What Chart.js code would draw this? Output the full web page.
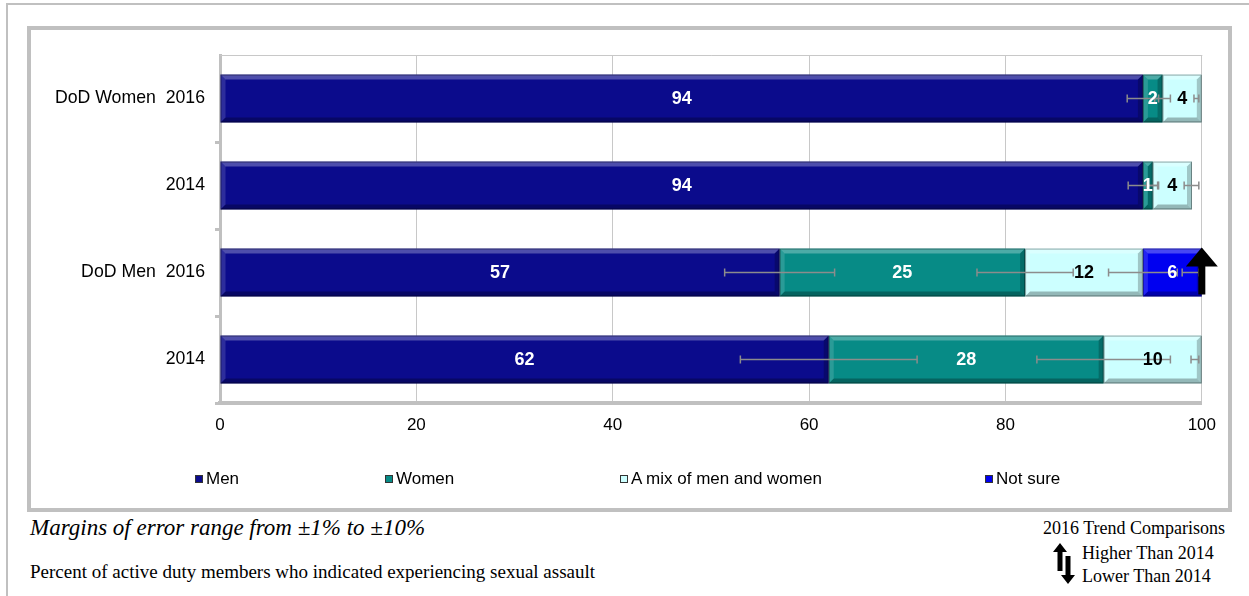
<!DOCTYPE html>
<html lang="en">
<head>
    <meta charset="UTF-8">
    <title>Perpetrator gender</title>
    <script src="https://cdn.jsdelivr.net/npm/chart.js"></script>
    <style>
        * {
            margin: 0;
            padding: 0;
            box-sizing: border-box;
        }

        body {
            width: 1249px;
            height: 596px;
            background: #fff;
            position: relative;
            overflow: hidden;
            font-family: "Liberation Sans", Arial, sans-serif;
        }

        /* thin page frame (top + left only) */
        .page-frame {
            position: absolute;
            left: 6px;
            top: 3px;
            width: 1243px;
            height: 593px;
            border-top: 2px solid #c0c0c0;
            border-left: 2px solid #c0c0c0;
        }

        /* chart box with the thick grey border */
        .chart-box {
            position: absolute;
            left: 27px;
            top: 26px;
            width: 1205px;
            height: 486px;
            border: 4px solid #c0c0c0;
        }

        .legend {
            position: absolute;
            left: 0;
            top: 469px;
            width: 1249px;
            height: 20px;
        }

        .legend-item {
            position: absolute;
            top: 0;
            display: flex;
            align-items: center;
            font-size: 17px;
            color: #000;
            white-space: nowrap;
        }

        .legend-item span.box {
            display: inline-block;
            width: 8px;
            height: 8px;
            margin-right: 3px;
            border: 1px solid #333;
        }

        .note {
            position: absolute;
            font-family: "Liberation Serif", "Times New Roman", serif;
            color: #000;
            white-space: nowrap;
        }

        .margins {
            left: 30px;
            top: 515px;
            font-size: 23px;
            font-style: italic;
        }

        .percent {
            left: 30px;
            top: 561px;
            font-size: 19px;
        }

        .trend-title {
            left: 1043px;
            top: 518px;
            font-size: 18px;
        }

        .trend-up {
            left: 1082px;
            top: 543px;
            font-size: 18px;
        }

        .trend-down {
            left: 1082px;
            top: 566px;
            font-size: 18px;
        }

        .trend-icon {
            position: absolute;
            left: 1052px;
            top: 542px;
        }
    </style>
</head>
<body>
    <div class="page-frame"></div>
    <div class="chart-box">
        <canvas id="perpChart"></canvas>
    </div>
    <div class="legend" id="legend"></div>

    <div class="note margins">Margins of error range from ±1% to ±10%</div>
    <div class="note percent">Percent of active duty members who indicated experiencing sexual assault</div>
    <div class="note trend-title">2016 Trend Comparisons</div>
    <svg class="trend-icon" width="26" height="44" viewBox="0 0 26 44">
        <polygon points="8,1 1,10 5.5,10 5.5,29 10.5,29 10.5,10 15,10" fill="#000"/>
        <polygon points="16,42 23,33 18.5,33 18.5,14 13.5,14 13.5,33 9,33" fill="#000"/>
    </svg>
    <div class="note trend-up">Higher Than 2014</div>
    <div class="note trend-down">Lower Than 2014</div>

    <script>
        // Rows (top to bottom) and series
        const categories = ['DoD Women  2016', '2014', 'DoD Men  2016', '2014'];
        const seriesNames = ['Men', 'Women', 'A mix of men and women', 'Not sure'];

        const men = [94, 94, 57, 62];
        const women = [2, 1, 25, 28];
        const mix = [4, 4, 12, 10];
        const notSure = [null, null, 6, null];

        // margins of error (+/- percentage points), drawn at each segment end
        const menErr = [1.6, 1.5, 5.6, 9.0];
        const womenErr = [0.8, 0.6, 4.9, 6.8];
        const mixErr = [0.8, 0.8, 3.5, 1.1];
        const notSureErr = [null, null, 2.0, null];

        // 2016 vs 2014 trend marks for the "Not sure" series
        const notSureTrend = [null, null, 'up', null];

        const xTicks = [0, 20, 40, 60, 80, 100];

        const seriesColors = ['#0b0b8c', '#078b86', '#ccffff', '#0000f0'];
        const labelColors = ['#ffffff', '#ffffff', '#000000', '#ffffff'];
        const legendX = [195, 385, 620, 985];

        const seriesValues = [men, women, mix, notSure];
        const seriesErrors = [menErr, womenErr, mixErr, notSureErr];

        // HTML legend
        const legendEl = document.getElementById('legend');
        seriesNames.forEach((name, i) => {
            const item = document.createElement('div');
            item.className = 'legend-item';
            item.style.left = legendX[i] + 'px';
            item.innerHTML = '<span class="box" style="background:' + seriesColors[i] + '"></span>' + name;
            legendEl.appendChild(item);
        });

        // 3D bevel, error bars, value labels and trend arrow on top of the bars
        const decoPlugin = {
            id: 'deco',
            afterDatasetsDraw(chart) {
                const ctx = chart.ctx;
                const area = chart.chartArea;
                const xScale = chart.scales.x;

                // bevels
                chart.data.datasets.forEach((ds, i) => {
                    const meta = chart.getDatasetMeta(i);
                    meta.data.forEach((bar, j) => {
                        if (ds.data[j] == null) return;
                        const p = bar.getProps(['x', 'y', 'base', 'height'], true);
                        const l = Math.min(p.x, p.base), r = Math.max(p.x, p.base);
                        const t = p.y - p.height / 2, b = p.y + p.height / 2;
                        const w = Math.min(5, (r - l) / 2);
                        const poly = (pts, fill) => {
                            ctx.beginPath();
                            ctx.moveTo(pts[0][0], pts[0][1]);
                            for (let k = 1; k < pts.length; k++) ctx.lineTo(pts[k][0], pts[k][1]);
                            ctx.closePath();
                            ctx.fillStyle = fill;
                            ctx.fill();
                        };
                        ctx.save();
                        poly([[l, t], [r, t], [r - w, t + w], [l + w, t + w]], 'rgba(255,255,255,0.28)');
                        poly([[l, t], [l + w, t + w], [l + w, b - w], [l, b]], 'rgba(255,255,255,0.14)');
                        poly([[l, b], [l + w, b - w], [r - w, b - w], [r, b]], 'rgba(0,0,0,0.28)');
                        poly([[r, t], [r, b], [r - w, b - w], [r - w, t + w]], 'rgba(0,0,0,0.22)');
                        ctx.strokeStyle = 'rgba(0,0,0,0.35)';
                        ctx.lineWidth = 1;
                        ctx.strokeRect(l + 0.5, t + 0.5, r - l - 1, b - t - 1);
                        ctx.restore();
                    });
                });

                // error bars at cumulative segment ends
                ctx.save();
                ctx.strokeStyle = '#8c8c8c';
                ctx.lineWidth = 1.5;
                categories.forEach((c, j) => {
                    let cum = 0;
                    seriesValues.forEach((vals, i) => {
                        if (vals[j] == null) return;
                        cum += vals[j];
                        const e = seriesErrors[i][j];
                        if (e == null) return;
                        const y = chart.getDatasetMeta(i).data[j].y;
                        const x1 = Math.max(area.left, xScale.getPixelForValue(cum - e));
                        const x2 = Math.min(area.right - 3, xScale.getPixelForValue(cum + e));
                        ctx.beginPath();
                        ctx.moveTo(x1, y);
                        ctx.lineTo(x2, y);
                        ctx.moveTo(x1, y - 4);
                        ctx.lineTo(x1, y + 4);
                        ctx.moveTo(x2, y - 4);
                        ctx.lineTo(x2, y + 4);
                        ctx.stroke();
                    });
                });
                ctx.restore();

                // value labels
                ctx.save();
                ctx.font = 'bold 18px "Liberation Sans", Arial, sans-serif';
                ctx.textAlign = 'center';
                ctx.textBaseline = 'middle';
                chart.data.datasets.forEach((ds, i) => {
                    const meta = chart.getDatasetMeta(i);
                    meta.data.forEach((bar, j) => {
                        const v = ds.data[j];
                        if (v == null) return;
                        const p = bar.getProps(['x', 'y', 'base'], true);
                        ctx.fillStyle = labelColors[i];
                        ctx.fillText(String(v), (p.x + p.base) / 2, p.y + 1);
                    });
                });
                ctx.restore();

                // trend arrows
                const nsMeta = chart.getDatasetMeta(3);
                notSureTrend.forEach((tr, j) => {
                    if (!tr) return;
                    const bar = nsMeta.data[j];
                    const p = bar.getProps(['x', 'y', 'height'], true);
                    const t = p.y - p.height / 2, b = p.y + p.height / 2;
                    ctx.save();
                    ctx.fillStyle = '#000';
                    ctx.beginPath();
                    if (tr === 'up') {
                        ctx.moveTo(p.x, t - 1);
                        ctx.lineTo(p.x + 16, t + 18);
                        ctx.lineTo(p.x + 3.5, t + 18);
                        ctx.lineTo(p.x + 3.5, b - 2);
                        ctx.lineTo(p.x - 3.5, b - 2);
                        ctx.lineTo(p.x - 3.5, t + 18);
                        ctx.lineTo(p.x - 16, t + 18);
                    } else {
                        ctx.moveTo(p.x, b + 1);
                        ctx.lineTo(p.x + 16, b - 18);
                        ctx.lineTo(p.x + 3.5, b - 18);
                        ctx.lineTo(p.x + 3.5, t + 2);
                        ctx.lineTo(p.x - 3.5, t + 2);
                        ctx.lineTo(p.x - 3.5, b - 18);
                        ctx.lineTo(p.x - 16, b - 18);
                    }
                    ctx.closePath();
                    ctx.fill();
                    ctx.restore();
                });
            }
        };

        // thin line along the top of the plot area
        const plotFramePlugin = {
            id: 'plotFrame',
            beforeDatasetsDraw(chart) {
                const a = chart.chartArea;
                const ctx = chart.ctx;
                ctx.save();
                ctx.strokeStyle = '#c8c8c8';
                ctx.lineWidth = 1;
                ctx.beginPath();
                ctx.moveTo(a.left, a.top + 0.5);
                ctx.lineTo(a.right + 0.5, a.top + 0.5);
                ctx.stroke();
                ctx.restore();
            }
        };

        const ctx = document.getElementById('perpChart').getContext('2d');
        const perpChart = new Chart(ctx, {
            type: 'bar',
            data: {
                labels: categories,
                datasets: seriesNames.map((name, i) => ({
                    label: name,
                    data: seriesValues[i],
                    backgroundColor: seriesColors[i],
                    borderWidth: 0,
                    barPercentage: 0.55,
                    categoryPercentage: 1
                }))
            },
            options: {
                indexAxis: 'y',
                responsive: true,
                maintainAspectRatio: false,
                animation: false,
                layout: {
                    padding: { top: 25, right: 25, left: 0, bottom: 0 }
                },
                scales: {
                    x: {
                        stacked: true,
                        min: 0,
                        max: 100,
                        afterBuildTicks: (scale) => {
                            scale.ticks = xTicks.map(v => ({ value: v }));
                        },
                        afterFit: (scale) => { scale.height = 105; },
                        grid: {
                            color: '#c8c8c8',
                            lineWidth: 1,
                            drawTicks: false
                        },
                        border: {
                            color: '#c0c0c0',
                            width: 4
                        },
                        ticks: {
                            color: '#000',
                            padding: 12,
                            font: { family: '"Liberation Sans", Arial, sans-serif', size: 17 }
                        }
                    },
                    y: {
                        stacked: true,
                        afterFit: (scale) => { scale.width = 189; },
                        grid: {
                            offset: true,
                            drawOnChartArea: false,
                            color: (c) => (c.index === 0 || c.index >= categories.length) ? 'rgba(0,0,0,0)' : '#c0c0c0',
                            lineWidth: 3,
                            tickLength: 5
                        },
                        border: {
                            color: '#c0c0c0',
                            width: 3
                        },
                        ticks: {
                            color: '#000',
                            padding: 10,
                            font: { family: '"Liberation Sans", Arial, sans-serif', size: 17.7 }
                        }
                    }
                },
                plugins: {
                    legend: { display: false },
                    tooltip: { enabled: false }
                }
            },
            plugins: [plotFramePlugin, decoPlugin]
        });
    </script>
</body>
</html>
